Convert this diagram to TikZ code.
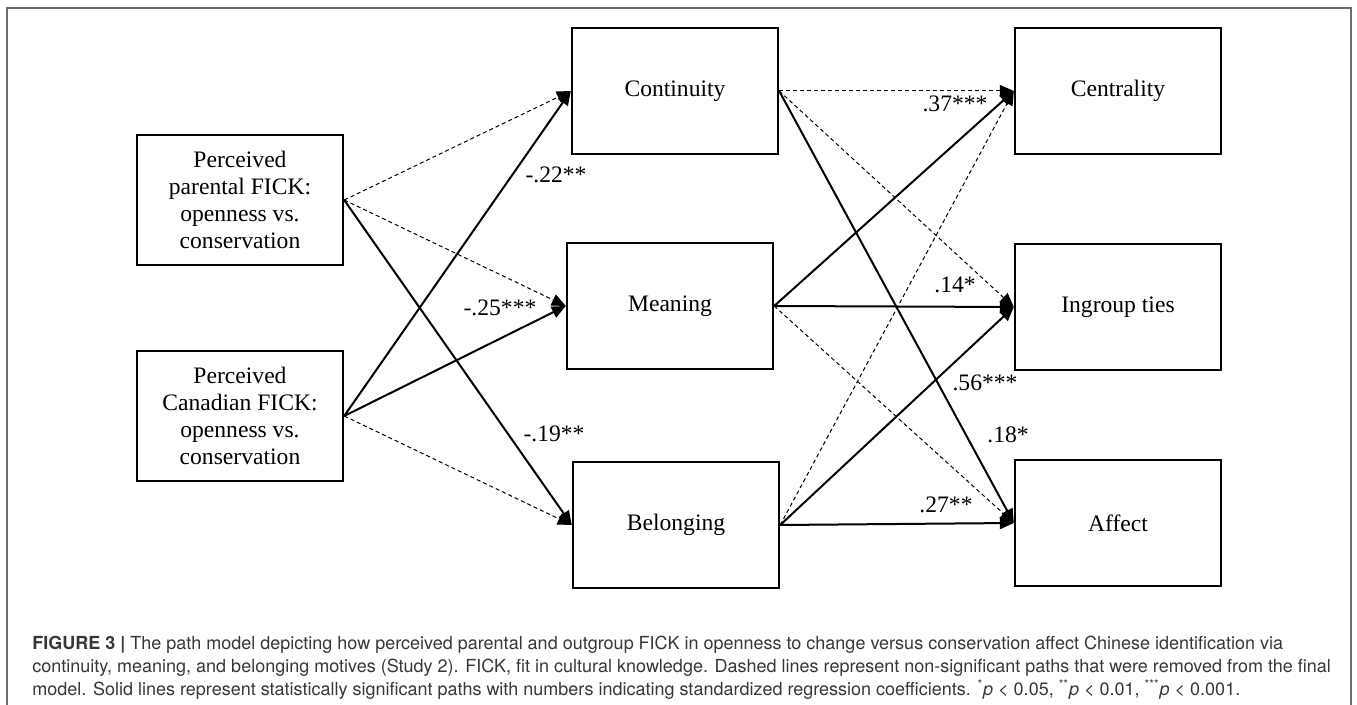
\documentclass[tikz,border=0pt]{standalone}
\usepackage{fontspec}
\setmainfont{Liberation Serif}
\newfontfamily\capfont{TeX Gyre Heros}
\usepackage[usenames]{xcolor}
\usepackage{tikz}
\usetikzlibrary{
  arrows.meta
}
\definecolor{framegray}{RGB}{110,110,110}
\definecolor{captext}{RGB}{55,55,55}

\begin{document}
\begin{tikzpicture}[x=0.5pt,y=-0.5pt,
  var/.style={draw, line width=1.2pt, minimum width=103pt, minimum height=63pt,
    align=center, inner sep=0pt, font=\fontsize{11.8}{13.5}\selectfont},
  sig/.style={line width=1pt, -{Triangle[length=7pt,width=6pt]}},
  nonsig/.style={line width=0.5pt, dash pattern=on 2pt off 1.5pt,
    -{Triangle[length=7pt,width=6pt]}},
  coef/.style={inner sep=0pt, font=\fontsize{11.8}{13.5}\selectfont}
]
\useasboundingbox (0,0) rectangle (1357,705);
\draw[framegray, line width=0.6pt] (7,705) -- (7,8) -- (1351,8) -- (1351,705);

% predictors
\node[var, minimum height=65pt] (par) at (240,200) {Perceived\\parental FICK:\\openness vs.\\conservation};
\node[var, minimum height=65pt] (can) at (240,416) {Perceived\\Canadian FICK:\\openness vs.\\conservation};
% motives
\node[var] (cont) at (675,91) {Continuity};
\node[var] (mean) at (670,306) {Meaning};
\node[var] (bel) at (676,525) {Belonging};
% identification
\node[var] (cent) at (1118,91) {Centrality};
\node[var] (ingr) at (1118,307) {Ingroup ties};
\node[var] (aff) at (1118,523) {Affect};

\draw[nonsig] (par.east) -- (cont.west);
\draw[nonsig] (par.east) -- (mean.west);
\draw[nonsig] (can.east) -- (bel.west);
\draw[nonsig] (cont.east) -- (cent.west);
\draw[nonsig] (cont.east) -- (ingr.west);
\draw[nonsig] (mean.east) -- (aff.west);
\draw[nonsig] (bel.east) -- (cent.west);

\draw[sig] (par.east) -- (bel.west);
\draw[sig] (can.east) -- (cont.west);
\draw[sig] (can.east) -- (mean.west);
\draw[sig] (cont.east) -- (aff.west);
\draw[sig] (mean.east) -- (cent.west);
\draw[sig] (mean.east) -- (ingr.west);
\draw[sig] (bel.east) -- (ingr.west);
\draw[sig] (bel.east) -- (aff.west);

\node[coef] (c1) at (556,175) {-.22**};
\node[coef] (c2) at (500,308) {-.25***};
\node[coef] (c3) at (554,434) {-.19**};
\node[coef] (c4) at (955,104) {.37***};
\node[coef] (c5) at (955,285) {.14*};
\node[coef] (c6) at (985,383) {.56***};
\node[coef] (c7) at (1008,435) {.18*};
\node[coef] (c8) at (946,505) {.27**};

\node[anchor=north west, align=left, inner sep=0pt, text=captext,
  font=\capfont\fontsize{9}{11.5}\selectfont] (caption) at (32,636)
  {\textbf{FIGURE 3 |} The path model depicting how perceived parental and outgroup FICK in openness to change versus conservation affect Chinese identification via\\
  continuity, meaning, and belonging motives (Study 2). FICK, fit in cultural knowledge. Dashed lines represent non-significant paths that were removed from the final\\
  model. Solid lines represent statistically significant paths with numbers indicating standardized regression coefficients. \textsuperscript{*}\textit{p} < 0.05, \textsuperscript{**}\textit{p} < 0.01, \textsuperscript{***}\textit{p} < 0.001.};
\end{tikzpicture}
\end{document}
